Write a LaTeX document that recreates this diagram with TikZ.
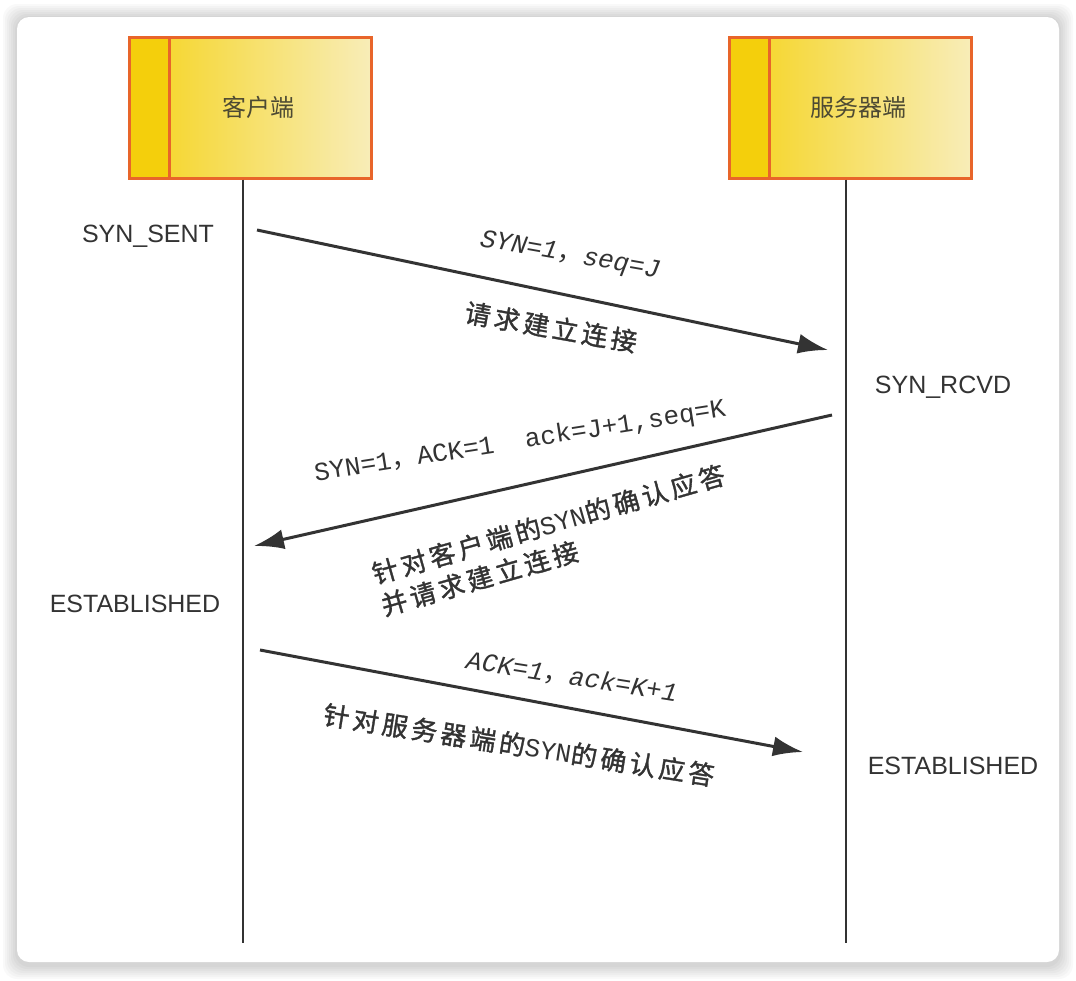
\documentclass[tikz,border=0pt]{standalone}
\usepackage{fontspec}
\setmainfont{Liberation Sans}
\newfontfamily\cjk{Noto Sans CJK SC}
\newfontfamily\cjkb[LetterSpace=14,FakeBold=1.3]{Noto Sans CJK SC}
\newfontfamily\mono{Liberation Mono}
\usetikzlibrary{arrows.meta}
\definecolor{boxline}{HTML}{E8652A}
\definecolor{stripe}{HTML}{F4CF0C}
\definecolor{goldA}{HTML}{F5D31A}
\definecolor{goldB}{HTML}{F8EDB8}
\definecolor{ink}{HTML}{333333}
\definecolor{hosttxt}{HTML}{4D4A33}
\begin{document}
\begin{tikzpicture}[x=1pt, y=-1pt,
  hostbox/.style={draw=boxline, line width=3pt, minimum width=242pt, minimum height=141pt,
    left color=goldA, right color=goldB, text=hosttxt, font=\cjk\fontsize{24}{28}\selectfont,
    path picture={
      \fill[stripe] (path picture bounding box.north west) rectangle ([xshift=40pt]path picture bounding box.south west);
      \draw[boxline, line width=3pt] ([xshift=40pt]path picture bounding box.north west) -- ([xshift=40pt]path picture bounding box.south west);
    }},
  lifeline/.style={ink, line width=2.2pt},
  msg/.style={ink, line width=3pt, -{Latex[length=30pt,width=20pt]}},
  state/.style={text=ink, font=\fontsize{25}{29}\selectfont},
  fieldtxt/.style={text=ink, font=\mono\fontsize{26}{30}\selectfont},
  notetxt/.style={text=ink, font=\cjkb\fontsize{26}{33}\selectfont, align=left}]
\useasboundingbox (0,0) rectangle (1076,980);
\fill[white] (0,0) rectangle (1076,980);
% card with soft shadow
\foreach \i in {14,12,...,2} {
\fill[black, opacity=0.025, rounded corners=14pt] (17-\i,17-\i+1) rectangle (1059+\i,962+\i+3);
}
\fill[white, rounded corners=12pt] (17,17) rectangle (1059,962);

% hosts
\node[hostbox] (client) at (250,107.5) {\hspace*{16pt}客户端};
\node[hostbox] (server) at (850,107.5) {\hspace*{16pt}服务器端};

% lifelines
\coordinate (cbot) at (243,943);
\coordinate (sbot) at (846,943);
\draw[lifeline] (client.south -| cbot) -- (cbot);
\draw[lifeline] (server.south -| sbot) -- (sbot);

% messages
\coordinate (m1a) at (257,230);
\coordinate (m1b) at (828,350);
\coordinate (m2a) at (832,415);
\coordinate (m2b) at (254,546);
\coordinate (m3a) at (260,650);
\coordinate (m3b) at (803,752);
\draw[msg] (m1a) -- (m1b);
\draw[msg] (m2a) -- (m2b);
\draw[msg] (m3a) -- (m3b);

% states
\node[state] (sent) at (148,236) {SYN\_SENT};
\node[state] (rcvd) at (943,387) {SYN\_RCVD};
\node[state] (estc) at (135,604) {ESTABLISHED};
\node[state] (ests) at (953,766) {ESTABLISHED};

% labels
\node[fieldtxt, rotate=-10] (f1) at (570,256) {\itshape SYN=1{\cjk ，}seq=J};
\node[notetxt, rotate=-10] (n1) at (551,327) {请求建立连接};
\node[fieldtxt, rotate=9] (f2) at (520,442) {SYN=1{\cjk ，}ACK=1\ \ ack=J+1,seq=K};
\node[notetxt, rotate=16] (n2) at (553,540) {针对客户端的{\mono SYN}的确认应答\\并请求建立连接};
\node[fieldtxt, rotate=-9] (f3) at (572,677) {\itshape ACK=1{\cjk ，}ack=K+1};
\node[notetxt, rotate=-9] (n3) at (519,745) {针对服务器端的{\mono SYN}的确认应答};
\end{tikzpicture}
\end{document}
